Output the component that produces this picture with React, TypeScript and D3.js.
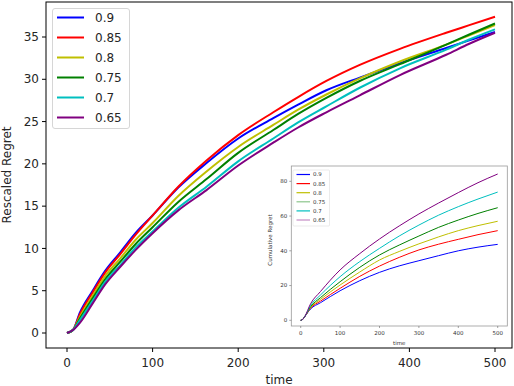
import { useEffect, useRef } from 'react';
import * as d3 from 'd3';

const labels = ['0.9', '0.85', '0.8', '0.75', '0.7', '0.65'];
const colors = ['#0000ff', '#ff0000', '#bfbf00', '#008000', '#00bfbf', '#800080'];

// main chart: rescaled regret
const mainTimes = [0, 7, 15, 30, 45, 62, 80, 100, 130, 163, 200, 241, 270, 303, 342, 389, 443, 470, 500];
const main09 = [0, 0.35, 2.4, 5.0, 7.4, 9.5, 11.8, 13.9, 17.2, 20.1, 23.0, 25.4, 27.0, 28.7, 30.2, 31.9, 33.7, 34.6, 35.6];
const main085 = [0, 0.35, 2.2, 4.8, 7.2, 9.3, 11.6, 13.9, 17.3, 20.4, 23.4, 26.1, 27.9, 29.8, 31.7, 33.6, 35.5, 36.4, 37.4];
const main08 = [0, 0.35, 1.9, 4.4, 6.8, 8.8, 11.0, 13.0, 16.2, 19.1, 22.0, 24.6, 26.4, 28.2, 30.1, 32.1, 34.1, 35.2, 36.4];
const main075 = [0, 0.35, 1.7, 4.1, 6.4, 8.4, 10.5, 12.5, 15.5, 18.2, 21.3, 24.0, 25.9, 27.8, 29.8, 31.8, 34.1, 35.3, 36.6];
const main07 = [0, 0.35, 1.5, 3.8, 6.1, 8.0, 10.1, 12.0, 14.8, 17.3, 20.3, 23.0, 24.9, 26.8, 29.0, 31.3, 33.5, 34.7, 35.9];
const main065 = [0, 0.35, 1.2, 3.5, 5.8, 7.8, 9.8, 11.8, 14.5, 16.9, 19.8, 22.5, 24.3, 26.1, 28.1, 30.5, 32.9, 34.2, 35.5];
const mainSeries = [main09, main085, main08, main075, main07, main065];
const mainXTicks = [0, 100, 200, 300, 400, 500];
const mainYTicks = [0, 5, 10, 15, 20, 25, 30, 35];

// inset: cumulative regret
const insetTimes = [0, 5, 10, 25, 50, 100, 150, 200, 250, 300, 350, 400, 450, 500];
const inset09 = [0, 0.5, 2, 6.5, 10.1, 17.0, 22.8, 27.6, 31.3, 34.3, 37.2, 40.0, 42.1, 43.7];
const inset085 = [0, 0.5, 2, 7.0, 11.0, 18.4, 25.3, 31.2, 36.2, 40.5, 43.8, 46.6, 49.3, 51.6];
const inset08 = [0, 0.5, 2, 7.3, 12.0, 20.3, 27.8, 34.7, 39.6, 44.0, 48.0, 51.6, 54.5, 57.0];
const inset075 = [0, 0.5, 2, 7.8, 13.0, 22.2, 30.5, 37.6, 43.3, 48.5, 53.5, 57.7, 61.5, 64.8];
const inset07 = [0, 0.5, 2, 8.5, 14.5, 25.1, 33.8, 41.4, 48.5, 54.8, 60.5, 65.4, 69.8, 73.8];
const inset065 = [0, 0.5, 2, 9.5, 16.5, 29.0, 38.4, 46.8, 54.3, 61.2, 67.5, 73.5, 79.2, 84.2];
const insetSeries = [inset09, inset085, inset08, inset075, inset07, inset065];
const insetXTicks = [0, 100, 200, 300, 400, 500];
const insetYTicks = [0, 20, 40, 60, 80];

const FONT = 'DejaVu Sans, sans-serif';

export default function App() {
  const svgRef = useRef<SVGSVGElement>(null);

  useEffect(() => {
    const svg = d3.select(svgRef.current);
    svg.selectAll('*').remove();

    // ---- main axes
    const x = d3.scaleLinear().domain([0, 500]).range([67, 495]);
    const y = d3.scaleLinear().domain([0, 35]).range([333, 37]);
    const left = 46;
    const right = 512;
    const top = 2;
    const bottom = 348;

    svg.append('rect').attr('width', 514).attr('height', 386).attr('fill', '#fff');

    const line = d3
      .line<number>()
      .x((_, i) => x(mainTimes[i]))
      .y(d => y(d))
      .curve(d3.curveMonotoneX);

    mainSeries.forEach((s, i) => {
      svg
        .append('path')
        .attr('d', line(s))
        .attr('fill', 'none')
        .attr('stroke', colors[i])
        .attr('stroke-width', 2);
    });

    const mx = svg.append('g').attr('font-family', FONT).attr('font-size', 12).attr('fill', '#262626');
    mainXTicks.forEach(t => {
      mx.append('line').attr('x1', x(t)).attr('x2', x(t)).attr('y1', bottom).attr('y2', bottom + 4).attr('stroke', '#000');
      mx.append('text').attr('x', x(t)).attr('y', bottom + 19).attr('text-anchor', 'middle').text(t);
    });
    mainYTicks.forEach(t => {
      mx.append('line').attr('x1', left - 4).attr('x2', left).attr('y1', y(t)).attr('y2', y(t)).attr('stroke', '#000');
      mx.append('text').attr('x', left - 7).attr('y', y(t)).attr('dy', '0.35em').attr('text-anchor', 'end').text(t);
    });
    mx.append('text').attr('x', (left + right) / 2).attr('y', 384).attr('text-anchor', 'middle').text('time');
    mx.append('text')
      .attr('transform', `translate(11, ${(top + bottom) / 2}) rotate(-90)`)
      .attr('text-anchor', 'middle')
      .text('Rescaled Regret');

    // main legend
    const lg = svg.append('g').attr('font-family', FONT).attr('font-size', 12);
    lg.append('rect')
      .attr('x', 52.5).attr('y', 8.5).attr('width', 77).attr('height', 120).attr('rx', 2.5)
      .attr('fill', '#fff').attr('fill-opacity', 0.8).attr('stroke', '#d6d6d6');
    labels.forEach((l, i) => {
      const ly = 17.5 + i * 20;
      lg.append('line').attr('x1', 57).attr('x2', 84).attr('y1', ly).attr('y2', ly).attr('stroke', colors[i]).attr('stroke-width', 2);
      lg.append('text').attr('x', 95).attr('y', ly).attr('dy', '0.35em').attr('fill', '#262626').text(l);
    });

    // ---- inset
    const ix = d3.scaleLinear().domain([0, 500]).range([300.7, 497.7]);
    const iy = d3.scaleLinear().domain([0, 80]).range([320.3, 181.3]);
    const iLeft = 291.3;
    const iRight = 507.3;
    const iTop = 166;
    const iBottom = 326;

    const ins = svg.append('g');
    ins.append('rect').attr('x', 266).attr('y', 160).attr('width', 244).attr('height', 187).attr('fill', '#fff');

    const iline = d3
      .line<number>()
      .x((_, i) => ix(insetTimes[i]))
      .y(d => iy(d))
      .curve(d3.curveMonotoneX);

    insetSeries.forEach((s, i) => {
      ins.append('path').attr('d', iline(s)).attr('fill', 'none').attr('stroke', colors[i]).attr('stroke-width', 1);
    });

    ins.append('rect')
      .attr('x', iLeft).attr('y', iTop).attr('width', iRight - iLeft).attr('height', iBottom - iTop)
      .attr('fill', 'none').attr('stroke', '#999').attr('stroke-width', 0.8);

    const it = ins.append('g').attr('font-family', FONT).attr('font-size', 5.5).attr('fill', '#333');
    insetXTicks.forEach(t => {
      it.append('line').attr('x1', ix(t)).attr('x2', ix(t)).attr('y1', iBottom).attr('y2', iBottom + 2).attr('stroke', '#666').attr('stroke-width', 0.6);
      it.append('text').attr('x', ix(t)).attr('y', iBottom + 9).attr('text-anchor', 'middle').text(t);
    });
    insetYTicks.forEach(t => {
      it.append('line').attr('x1', iLeft - 2).attr('x2', iLeft).attr('y1', iy(t)).attr('y2', iy(t)).attr('stroke', '#666').attr('stroke-width', 0.6);
      it.append('text').attr('x', iLeft - 4).attr('y', iy(t)).attr('dy', '0.35em').attr('text-anchor', 'end').text(t);
    });
    it.append('text').attr('x', (iLeft + iRight) / 2).attr('y', 345).attr('text-anchor', 'middle').text('time');
    it.append('text')
      .attr('transform', `translate(272, ${(iTop + iBottom) / 2 - 6}) rotate(-90)`)
      .attr('text-anchor', 'middle')
      .text('Cumulative Regret');

    const il = ins.append('g').attr('font-family', FONT).attr('font-size', 5.5);
    il.append('rect')
      .attr('x', 293).attr('y', 170).attr('width', 36.5).attr('height', 56).attr('rx', 1)
      .attr('fill', '#fff').attr('stroke', '#ddd').attr('stroke-width', 0.6);
    labels.forEach((l, i) => {
      const ly = 174.5 + i * 9.1;
      il.append('line').attr('x1', 296.5).attr('x2', 310).attr('y1', ly).attr('y2', ly)
        .attr('stroke', colors[i]).attr('stroke-width', 1.2)
        .attr('stroke-opacity', i === 3 || i === 5 ? 0.45 : 1);
      il.append('text').attr('x', 313).attr('y', ly).attr('dy', '0.35em').attr('fill', '#333').text(l);
    });

    // main spines drawn last
    svg.append('rect')
      .attr('x', left).attr('y', top).attr('width', right - left).attr('height', bottom - top)
      .attr('fill', 'none').attr('stroke', '#000').attr('stroke-width', 1);
  }, []);

  return (
    <svg
      ref={svgRef}
      width={514}
      height={386}
      style={{ position: 'absolute', left: 0, top: 0, display: 'block' }}
    />
  );
}
